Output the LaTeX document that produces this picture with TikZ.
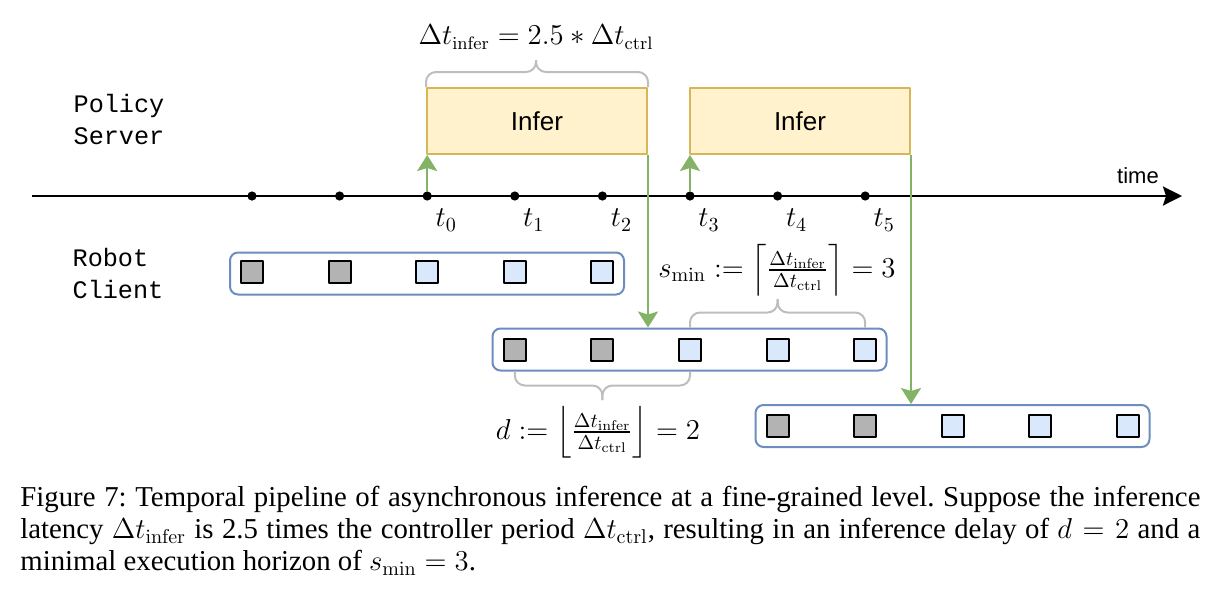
\documentclass[tikz,border=0pt]{standalone}
\usepackage[no-math]{fontspec}
\setmainfont{Liberation Serif}
\setsansfont{Liberation Sans}
\setmonofont{Liberation Mono}
\usepackage{amsmath}
\usetikzlibrary{positioning,arrows.meta}

\definecolor{inferfill}{HTML}{FFF2CC}
\definecolor{inferdraw}{HTML}{D6B656}
\definecolor{bufdraw}{HTML}{6C8EBF}
\definecolor{newfill}{HTML}{DAE8FC}
\definecolor{oldfill}{HTML}{B3B3B3}
\definecolor{sendgreen}{HTML}{82B366}
\definecolor{bracegray}{HTML}{BDBDBD}

\tikzset{
	infer/.style={draw=inferdraw, fill=inferfill, line width=1pt, minimum width=110pt, minimum height=33pt, font=\sffamily\fontsize{13}{15}\selectfont},
	buffer/.style={draw=bufdraw, fill=white, line width=1pt, rounded corners=4pt, minimum width=197pt, minimum height=21pt},
	act/.style={draw=black, line width=1pt, minimum size=11pt, inner sep=0pt},
	dot/.style={circle, fill=black, inner sep=0pt, minimum size=4.6pt},
	send/.style={draw=sendgreen, line width=1pt, -{Stealth[length=8pt, width=10pt, inset=1.5pt]}},
	brc/.style={draw=bracegray, line width=1pt, rounded corners=5pt},
	role/.style={font=\ttfamily\fontsize{12.6}{16}\selectfont, align=left},
	mathlab/.style={font=\fontsize{14}{16}\selectfont},
	eqlab/.style={font=\fontsize{14.8}{17}\selectfont},
}
\newcommand{\capline}[1]{\hbox to 590pt{#1}}

\begin{document}
\begin{tikzpicture}[x=0.5pt, y=-0.5pt, line join=round]

	\useasboundingbox (0,0) rectangle (1219,596);

	% time axis
	\coordinate (tl0) at (32,196);
	\coordinate (tl1) at (1182,196);
	\draw[line width=1.3pt, -{Stealth[length=9.5pt, width=9.5pt, inset=1.5pt]}] (tl0) -- (tl1);
	\node[font=\sffamily\fontsize{11}{13}\selectfont] (timelab) at (1138,176) {time};

	\foreach \k in {0,...,7} {
		\node[dot] (d\k) at (252+87.6*\k,196) {};
	}
	\foreach \k/\i in {2/0, 3/1, 4/2, 5/3, 6/4, 7/5} {
		\node[mathlab] (t\i) at ([xshift=9.5pt, yshift=-12pt]d\k) {$t_{\i}$};
	}

	% server and client
	\node[role] (server) at (119,119) {Policy\\Server};
	\node[role] (client) at (118,273) {Robot\\Client};

	\node[infer, anchor=north west] (inf1) at (426,87) {Infer};
	\node[infer, anchor=north west] (inf2) at (689,87) {Infer};

	% action chunks
	\node[buffer] (buf1) at (427,273.5) {};
	\node[buffer] (buf2) at (689.5,349.5) {};
	\node[buffer] (buf3) at (952.5,426) {};

	\foreach \k in {0,...,4} {
		\ifnum\k<2 \def\c{oldfill}\else \def\c{newfill}\fi
		\node[act, fill=\c] (a1\k) at (252+87.6*\k,272) {};
		\node[act, fill=\c] (a2\k) at (514.8+87.6*\k,350) {};
		\node[act, fill=\c] (a3\k) at (777.6+87.6*\k,426) {};
	}

	% requests and replies
	\draw[send] (d2) -- (d2 |- inf1.south);
	\draw[send] (d5) -- (d5 |- inf2.south);
	\draw[send] (inf1.south east) -- (inf1.south east |- buf2.north);
	\draw[send] (inf2.south east) -- (inf2.south east |- buf3.north);

	% braces
	\coordinate (br1) at (536,60);
	\draw[brc] (inf1.north west) -- ++(0,-15) -| (br1);
	\draw[brc] (inf1.north east) -- ++(0,-15) -| (br1);
	\node[font=\fontsize{13.4}{16}\selectfont] (lat) at (536,37) {$\Delta t_{\mathrm{infer}} = 2.5 * \Delta t_{\mathrm{ctrl}}$};

	\coordinate (br2) at (777.6,299);
	\draw[brc] (a22 |- buf2.north) -- ++(0,-15) -| (br2);
	\draw[brc] (a24 |- buf2.north) -- ++(0,-15) -| (br2);
	\node[eqlab] (smin) at (777,270) {$s_{\min} := \left\lceil \frac{\Delta t_{\mathrm{infer}}}{\Delta t_{\mathrm{ctrl}}} \right\rceil = 3$};

	\coordinate (br3) at (602.4,400);
	\draw[brc] (a20 |- buf2.south) -- ++(0,14) -| (br3);
	\draw[brc] (a22 |- buf2.south) -- ++(0,14) -| (br3);
	\node[eqlab] (delay) at (598,432) {$d := \left\lfloor \frac{\Delta t_{\mathrm{infer}}}{\Delta t_{\mathrm{ctrl}}} \right\rfloor = 2$};

	% caption
	\node[anchor=north west, align=left, inner sep=0pt, font=\fontsize{14.4}{16}\selectfont\frenchspacing] (cap) at (20,486) {\capline{Figure 7: Temporal pipeline of asynchronous inference at a fine-grained level. Suppose the inference}\\
		\capline{latency $\Delta t_{\mathrm{infer}}$ is 2.5 times the controller period $\Delta t_{\mathrm{ctrl}}$, resulting in an inference delay of $d = 2$ and a}\\
		minimal execution horizon of $s_{\min} = 3$.};

\end{tikzpicture}
\end{document}
